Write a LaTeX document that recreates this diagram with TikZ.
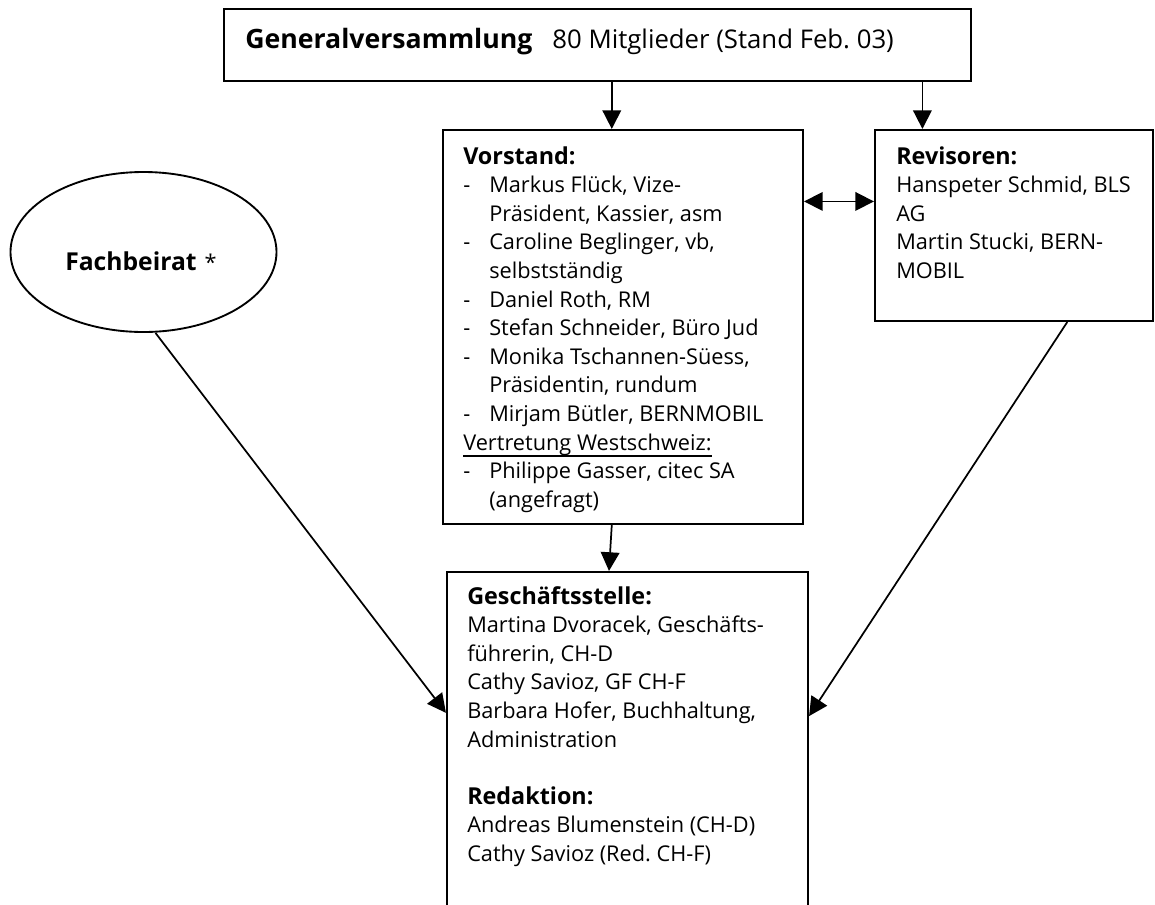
\documentclass[tikz,border=0pt]{standalone}
\usepackage{fontspec}
\setmainfont{Open Sans}
\usetikzlibrary{arrows.meta,calc,shapes.geometric}
\newcommand{\dashitem}{\makebox[19.5pt][l]{-}}
\newcommand{\hang}{\hspace*{19.5pt}}
\newcommand{\hd}[1]{{\fontsize{17.5}{21.45}\selectfont\bfseries #1}}
\newlength{\ullen}
\newcommand{\myul}[1]{\leavevmode\settowidth{\ullen}{#1}\rlap{\rule[-5pt]{\ullen}{1.2pt}}#1}
\frenchspacing
\begin{document}
\begin{tikzpicture}[x=0.75pt,y=-0.75pt,
  box/.style={draw,line width=1.6pt,rectangle,inner sep=0pt},
  oval/.style={draw,line width=1.4pt,ellipse,inner sep=0pt},
  txt/.style={anchor=base west,inner sep=0pt,font=\fontsize{16.3}{21.45}\selectfont},
  arr/.style={line width=1.3pt,-{Triangle[length=14pt,width=14pt]}},
  darr/.style={line width=1.3pt,{Triangle[length=14pt,width=14pt]}-{Triangle[length=14pt,width=14pt]}},
]
\useasboundingbox (0,0) rectangle (1155,904);
\clip (0,0) rectangle (1155,904);
% boxes
\node[box,minimum width=560.25pt,minimum height=54pt] (gv) at (597.5,45) {};
\node[box,minimum width=270pt,minimum height=295.5pt] (vor) at (623,327) {};
\node[box,minimum width=208.5pt,minimum height=143.25pt] (rev) at (1014,225.5) {};
\node[box,minimum width=270.75pt,minimum height=268.5pt] (gs) at (627.5,751) {};
\node[oval,minimum width=199.5pt,minimum height=120pt] (fb) at (143.5,252) {};
% texts
\node[txt] (gvt) at (245,48) {{\fontsize{20}{24}\selectfont\bfseries Generalversammlung}\hspace{15pt}{\fontsize{19.3}{24}\selectfont 80 Mitglieder (Stand Feb. 03)}};
\node[txt] (fbt) at (65,270) {{\fontsize{18.5}{22}\selectfont\bfseries Fachbeirat}\hspace{6pt}*};
\node[txt] (vort) at (463,164) {\parbox[t]{265pt}{\raggedright
\hd{Vorstand:}\\
\dashitem Markus Flück, Vize-\\
\hang Präsident, Kassier, asm\\
\dashitem Caroline Beglinger, vb,\\
\hang selbstständig\\
\dashitem Daniel Roth, RM\\
\dashitem Stefan Schneider, Büro Jud\\
\dashitem Monika Tschannen-Süess,\\
\hang Präsidentin, rundum\\
\dashitem Mirjam Bütler, BERNMOBIL\\
\myul{Vertretung Westschweiz:}\\
\dashitem Philippe Gasser, citec SA\\
\hang (angefragt)}};
\node[txt] (revt) at (896,164) {\parbox[t]{200pt}{\raggedright
\hd{Revisoren:}\\
Hanspeter Schmid, BLS\\
AG\\
Martin Stucki, BERN-\\
MOBIL}};
\node[txt] (gst) at (467,604) {\parbox[t]{260pt}{\raggedright
\hd{Geschäftsstelle:}\\
Martina Dvoracek, Geschäfts-\\
führerin, CH-D\\
Cathy Savioz, GF CH-F\\
Barbara Hofer, Buchhaltung,\\
Administration\\[21.45pt]
\hd{Redaktion:}\\
Andreas Blumenstein (CH-D)\\
Cathy Savioz (Red. CH-F)}};
% connector anchor points
\coordinate (a1) at ($(vor.north west)!0.469!(vor.north east)$);
\coordinate (a2) at ($(rev.north west)!0.173!(rev.north east)$);
\coordinate (a3s) at ($(vor.south west)!0.469!(vor.south east)$);
\coordinate (a3e) at ($(gs.north west)!0.449!(gs.north east)$);
\coordinate (a4s) at ($(fb.south)+(12,0)$);
\coordinate (a4e) at ($(gs.north west)!0.394!(gs.south west)$);
\coordinate (a5s) at ($(rev.south west)!0.69!(rev.south east)$);
\coordinate (a5e) at ($(gs.north east)!0.403!(gs.south east)$);
\coordinate (dl) at ($(vor.north east)!0.183!(vor.south east)$);
% connectors
\draw[arr] (gv.south -| a1) -- (a1);
\draw[arr] (gv.south -| a2) -- (a2);
\draw[darr] (dl) -- (dl -| rev.west);
\draw[arr] (a3s) -- (a3e);
\draw[arr] (a4s) -- (a4e);
\draw[arr] (a5s) -- (a5e);
\end{tikzpicture}
\end{document}
